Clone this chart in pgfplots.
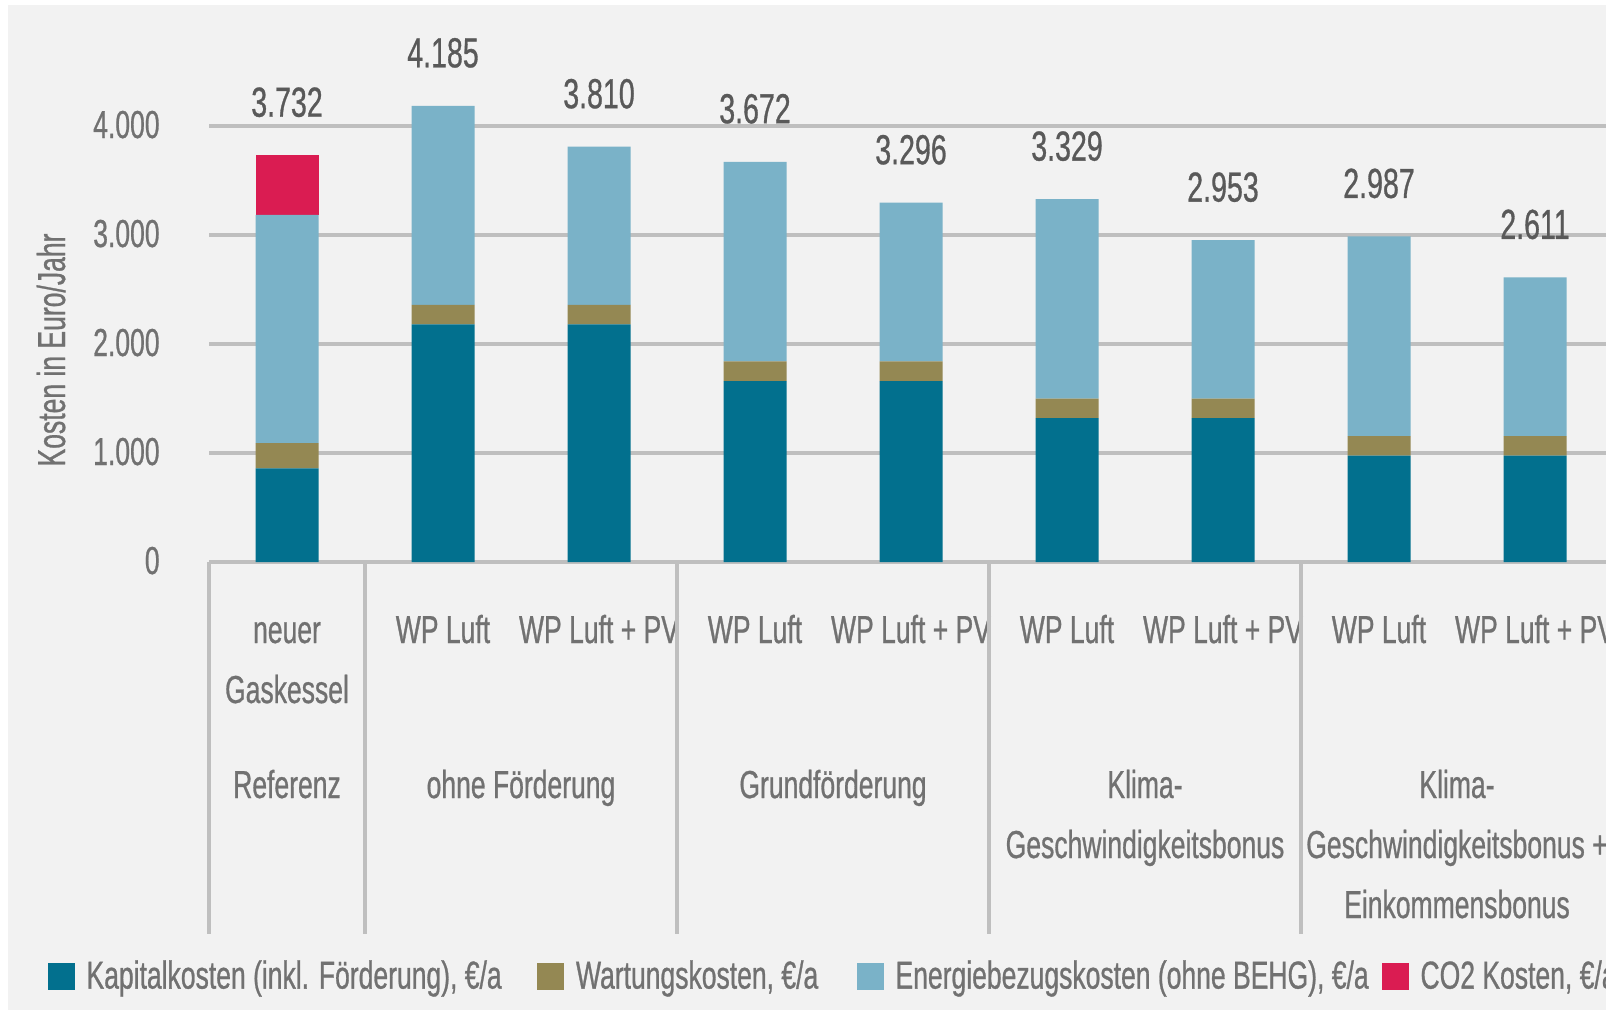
\documentclass[border=0pt]{standalone}
\usepackage{pgfplots}
\pgfplotsset{compat=1.18}
\usepackage{fontspec}
\setmainfont{Liberation Sans}[FakeStretch=0.68, FakeBold=0.7]
\definecolor{kap}{HTML}{02708E}
\definecolor{wart}{HTML}{948853}
\definecolor{ener}{HTML}{7AB2C8}
\definecolor{cotwo}{HTML}{DA1C52}
\definecolor{bg}{HTML}{F2F2F2}
\definecolor{gridc}{HTML}{BFBFBF}
\definecolor{lab}{HTML}{717171}
\definecolor{val}{HTML}{595959}
\pgfplotsset{myaxis/.style={
  at={(104.5pt,-281pt)}, anchor=south west,
  scale only axis, width=702pt, height=245.25pt,
  xmin=-0.5, xmax=8.5, ymin=0, ymax=4500,
  enlargelimits=false, clip=false}}
\begin{document}
\begin{tikzpicture}[font=\fontsize{19.5}{30}\selectfont]
\useasboundingbox (0,0) rectangle (803pt,-505pt);
\clip (0,0) rectangle (803pt,-505pt);
\fill[white] (0,0) rectangle (803pt,-505pt);
\fill[bg] (4pt,-2.5pt) rectangle (803pt,-505pt);
\begin{axis}[
  myaxis,
  ybar stacked, bar width=31.5pt,
  axis x line*=bottom, axis y line*=left,
  y axis line style={draw=none},
  x axis line style={draw=gridc, line width=1.75pt, -},
  ytick={0,1000,2000,3000,4000},
  yticklabels={0,1.000,2.000,3.000,4.000},
  xtick={0,1,2,3,4,5,6,7,8},
  xticklabels={neuer,WP Luft,WP Luft + PV,WP Luft,WP Luft + PV,WP Luft,WP Luft + PV,WP Luft,WP Luft + PV},
  major tick length=0pt,
  ymajorgrids, grid style={draw=gridc, line width=1.75pt},
  yticklabel style={anchor=base east, inner sep=0pt, xshift=-24.5pt, yshift=-6pt, text=lab},
  xticklabel style={anchor=base, inner sep=0pt, yshift=-40.5pt, text=lab},
  legend columns=4,
  legend cell align=left,
  legend style={draw=none, fill=none, inner sep=0pt, outer sep=0pt,
    at={(-0.115,-0.844)}, anchor=west,
    column sep=0pt,
    /tikz/every odd column/.append style={column sep=6pt},
    nodes={inner sep=0pt, anchor=base west, text=lab}},
]
\addplot[fill=kap, draw=none, legend image code/.code={\fill[kap] (0pt,-0.5pt) rectangle (13.5pt,13pt);}]
  coordinates {(0,860) (1,2180) (2,2180) (3,1660) (4,1660) (5,1320) (6,1320) (7,975) (8,975)};
\addlegendentry{\makebox[225.25pt][l]{Kapitalkosten (inkl. Förderung), €/a}}
\addplot[fill=wart, draw=none, legend image code/.code={\fill[wart] (0pt,-0.5pt) rectangle (13.5pt,13pt);}]
  coordinates {(0,230) (1,180) (2,180) (3,180) (4,180) (5,180) (6,180) (7,180) (8,180)};
\addlegendentry{\makebox[140.25pt][l]{Wartungskosten, €/a}}
\addplot[fill=ener, draw=none, legend image code/.code={\fill[ener] (0pt,-0.5pt) rectangle (13.5pt,13pt);}]
  coordinates {(0,2095) (1,1825) (2,1450) (3,1832) (4,1456) (5,1829) (6,1453) (7,1832) (8,1456)};
\addlegendentry{\makebox[243pt][l]{Energiebezugskosten (ohne BEHG), €/a}}
\addplot[fill=cotwo, draw=none, legend image code/.code={\fill[cotwo] (0pt,-0.5pt) rectangle (13.5pt,13pt);}]
  coordinates {(0,547) (1,0) (2,0) (3,0) (4,0) (5,0) (6,0) (7,0) (8,0)};
\addlegendentry{CO2 Kosten, €/a}
\draw[gridc, line width=1.6pt] (axis cs:-0.5,0) -- ++(0pt,-186pt);
\draw[gridc, line width=1.6pt] (axis cs:0.5,0) -- ++(0pt,-186pt);
\draw[gridc, line width=1.6pt] (axis cs:2.5,0) -- ++(0pt,-186pt);
\draw[gridc, line width=1.6pt] (axis cs:4.5,0) -- ++(0pt,-186pt);
\draw[gridc, line width=1.6pt] (axis cs:6.5,0) -- ++(0pt,-186pt);
\node[anchor=base, inner sep=0pt, text=lab] at ([yshift=-70.5pt]axis cs:0,0) {Gaskessel};
\node[anchor=base, inner sep=0pt, text=lab] at ([yshift=-118pt]axis cs:0,0) {Referenz};
\node[anchor=base, inner sep=0pt, text=lab] at ([yshift=-118pt]axis cs:1.5,0) {ohne Förderung};
\node[anchor=base, inner sep=0pt, text=lab] at ([yshift=-118pt]axis cs:3.5,0) {Grundförderung};
\node[anchor=base, inner sep=0pt, text=lab] at ([yshift=-118pt]axis cs:5.5,0) {Klima-};
\node[anchor=base, inner sep=0pt, text=lab] at ([yshift=-148pt]axis cs:5.5,0) {Geschwindigkeitsbonus};
\node[anchor=base, inner sep=0pt, text=lab] at ([yshift=-118pt]axis cs:7.5,0) {Klima-};
\node[anchor=base, inner sep=0pt, text=lab] at ([yshift=-148pt]axis cs:7.5,0) {Geschwindigkeitsbonus +};
\node[anchor=base, inner sep=0pt, text=lab] at ([yshift=-178pt]axis cs:7.5,0) {Einkommensbonus};
\end{axis}
\begin{axis}[myaxis, hide axis]
\addplot[draw=none, mark=none, nodes near coords, point meta=explicit symbolic,
  nodes near coords style={anchor=base, yshift=19.25pt, inner sep=0pt, text=val, font=\fontsize{21}{25}\selectfont}]
  coordinates {(0,3732) [3.732] (1,4185) [4.185] (2,3810) [3.810] (3,3672) [3.672] (4,3296) [3.296] (5,3329) [3.329] (6,2953) [2.953] (7,2987) [2.987] (8,2611) [2.611]};
\end{axis}
\node[rotate=90, anchor=base, inner sep=0pt, text=lab] at (32.5pt,-175pt) {Kosten in Euro/Jahr};
\end{tikzpicture}
\end{document}
